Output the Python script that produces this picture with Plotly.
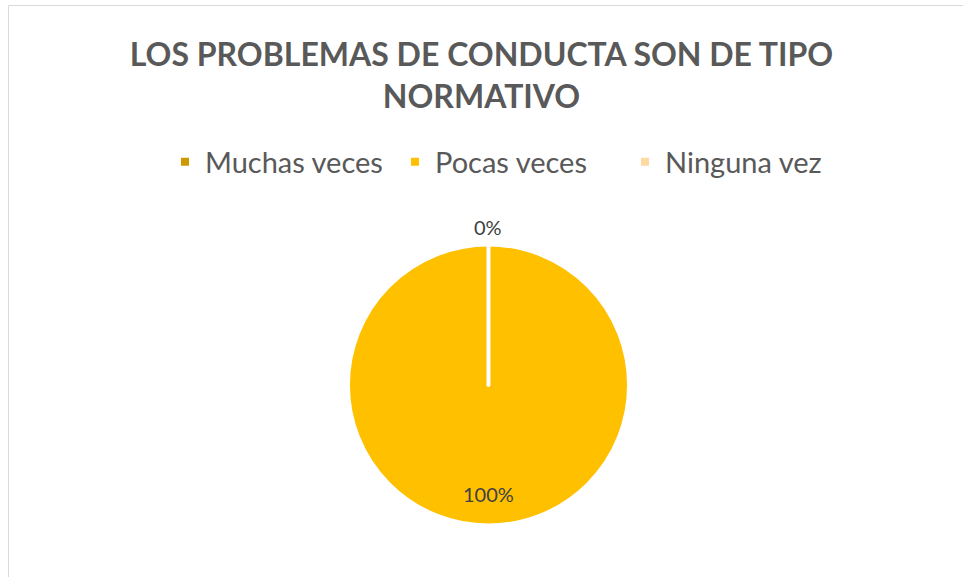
import plotly.graph_objects as go

W, H = 963, 577
title_lines = ["LOS PROBLEMAS DE CONDUCTA SON DE TIPO", "NORMATIVO"]
categories = ["Muchas veces", "Pocas veces", "Ninguna vez"]
values = [0, 100, 0]
colors = ["#CC9900", "#FFC000", "#FFD9A3"]

total = sum(values)
pcts = [round(v / total * 100) for v in values]

def px_x(x):
    return x / W

def px_y(y):
    return 1 - y / H

fig = go.Figure()
fig.add_trace(go.Pie(
    labels=categories,
    values=values,
    marker=dict(colors=colors, line=dict(color="white", width=4)),
    sort=False,
    direction="clockwise",
    rotation=0,
    textinfo="none",
    hoverinfo="label+percent",
    domain=dict(x=[px_x(348), px_x(629)], y=[px_y(526), px_y(244)]),
    showlegend=True,
))

font_family = "Lato, 'Open Sans', sans-serif"
annotations = [
    dict(text=f"{pcts[0]}%", x=px_x(488), y=px_y(227), xref="paper", yref="paper",
         showarrow=False, font=dict(family=font_family, size=20, color="#404040")),
    dict(text=f"{pcts[1]}%", x=px_x(488), y=px_y(494), xref="paper", yref="paper",
         yanchor="middle", showarrow=False,
         font=dict(family=font_family, size=20, color="#404040")),
]

fig.update_layout(
    width=W, height=H,
    margin=dict(l=0, r=0, t=0, b=0),
    paper_bgcolor="white",
    plot_bgcolor="white",
    title=dict(
        text="<b>" + "<br>".join(title_lines) + "</b>",
        x=0.5, xanchor="center", y=px_y(66), yanchor="middle",
        font=dict(family=font_family, size=32, color="#595959"),
    ),
    legend=dict(
        orientation="h", x=px_x(510), xanchor="center", y=px_y(162), yanchor="middle",
        font=dict(family=font_family, size=29, color="#595959"),
        itemwidth=30,
        entrywidth=185,
    ),
    annotations=annotations,
    shapes=[dict(type="rect", xref="paper", yref="paper",
                 x0=px_x(8.5), y0=-0.05, x1=1.05, y1=px_y(5.5),
                 line=dict(color="#D9D9D9", width=1), fillcolor="rgba(0,0,0,0)", layer="below")],
)

fig.write_html("out.html", post_script="document.body.style.margin='0';",
               config={"displayModeBar": False})
